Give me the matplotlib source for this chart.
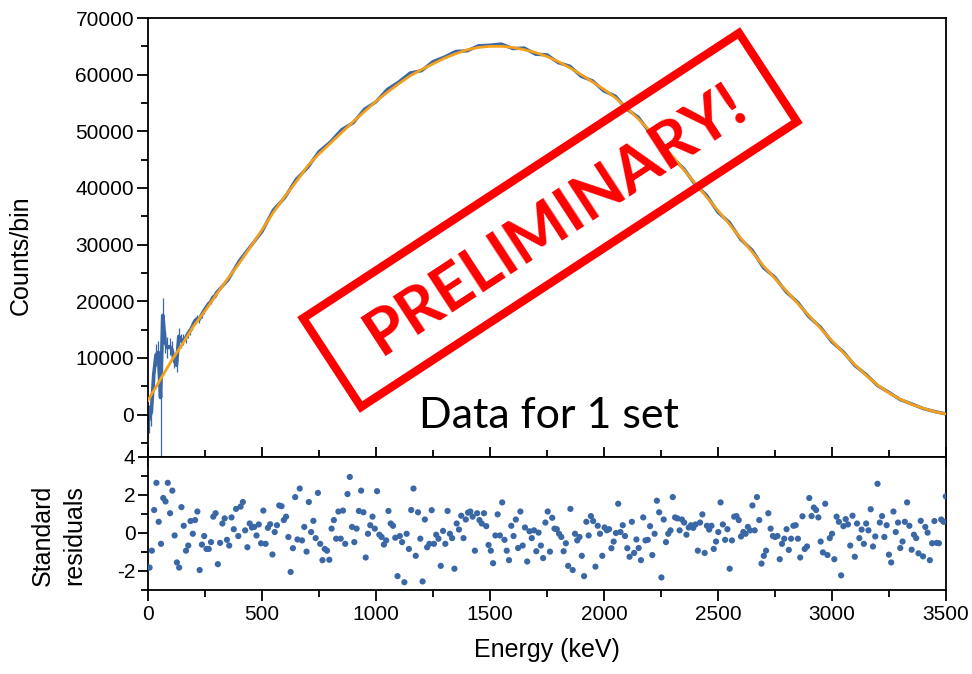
import numpy as np
import matplotlib
matplotlib.use("Agg")
import matplotlib.pyplot as plt
from matplotlib.patches import Rectangle
from matplotlib.transforms import Affine2D
from matplotlib.ticker import MultipleLocator

plt.rcParams['font.family'] = ['Liberation Sans', 'DejaVu Sans']

# fitted spectrum, every 50 keV
fit_energy = list(range(0, 3501, 50))
fit_counts = [2500, 5900, 9300, 12400, 15600, 18300, 21200, 24000, 26700, 29600,
              32600, 35700, 38500, 41100, 43900, 46000, 47900, 49800, 51700, 53500,
              55300, 56900, 58400, 59800, 60900, 61900, 62900, 63700, 64400, 64800,
              65000, 65000, 64800, 64400, 63900, 63200, 62300, 61200, 60000, 58700,
              57400, 55900, 54100, 52200, 50100, 47900, 45600, 43200, 40800, 38400,
              36000, 33600, 31100, 28700, 26200, 24000, 21800, 19600, 17400, 15200,
              13000, 10900, 8800, 6900, 5200, 3800, 2700, 1800, 1100, 500, 100]

# measured data, low energy part (10 keV bins) with error bars
low_energy = list(range(5, 300, 10))
low_counts = [-800, 500, 7000, 10500, 11000, 3000, 17500, 12800, 11800, 12000,
              11500, 9500, 8700, 13800, 13000, 13200, 13500, 14300, 14800, 15600,
              16500, 16900, 16800, 17600, 18300, 18900, 19500, 19900, 20700, 21000]
low_err = [2500, 2500, 2500, 2000, 2000, 14500, 3000, 2000, 1800, 1500,
           1500, 1200, 1200, 1500, 1200, 1000, 900, 800, 700, 700,
           600, 600, 600, 500, 500, 500, 450, 450, 400, 400]

# measured data above 300 keV
high_energy = list(range(300, 3501, 50))
high_counts = [21500, 23700, 27100, 29700, 32300, 36100, 38300, 41500, 43600, 46400,
               48100, 50300, 51500, 53900, 55200, 57400, 58700, 60300, 60700, 62300,
               63100, 64100, 64200, 65100, 65200, 65400, 64600, 64700, 63600, 63500,
               62100, 61500, 59700, 58900, 57100, 56200, 53900, 52500, 49800, 48200,
               45300, 43400, 40600, 38700, 35700, 33900, 30900, 29000, 25900, 24200,
               21600, 19800, 17200, 15400, 12800, 11050, 8650, 7050, 5100, 3900,
               2620, 1860, 1050, 530, 100]

# standard residuals, ~10 keV bins from 7 to 3499 keV
residuals = [
    -1.82, -0.93, 1.21, 2.64, 0.59, -0.57, 1.84, 1.66, 2.64, 1.04,
    2.23, -0.13, -1.55, -1.82, 1.36, 0.38, -0.93, -0.66, 0.63, -0.04,
    0.68, 1.13, -1.95, -0.61, -0.16, -0.84, -0.84, -0.48, 0.86, 1.04,
    -1.64, -0.52, 0.5, 0.77, -0.36, -0.66, 0.82, 0.2, 1.27, -0.16,
    1.39, 1.63, 0.14, -0.75, 0.5, 0.29, 0.32, -0.13, 0.45, -0.54,
    1.18, -0.57, 0.27, 0.46, -1.13, 0.05, 0.41, 1.45, 1.41, 0.68,
    0.86, -0.21, -2.05, -0.8, 1.89, -0.34, 2.34, -0.39, 0.32, -0.98,
    1.63, 0.05, 0.64, -0.27, 2.11, -0.57, -1.43, -0.84, -0.93, -1.41,
    0.23, 0.68, -0.3, 1.13, -0.3, 1.18, -0.57, 2.05, 2.95, 0.32,
    -0.48, 0.23, 1.16, 2.23, 1.09, -1.29, -0.04, 0.41, 0.86, 0.23,
    2.2, -0.09, -0.21, -0.61, -0.39, 1.16, 0.5, 0.38, -0.25, -2.27,
    -0.16, -0.48, -2.59, -0.04, -0.84, 1.21, 2.34, -1.2,
    1.09, -0.3, -2.55, 0.71, -0.75, -0.57, 1.2, -0.57, -0.09, -0.3,
    -1.73, 0.11, -0.57, 1.16, -0.04, -0.27, -1.88, 0.5, 0.18, 0.91,
    -0.27, 0.71, 1.07, 1.13, 0.86, -0.93, 1.04, 0.68, 0.5, 1.04,
    0.36, -0.63, -0.93, -1.59, -0.13, 0.98, -0.13, 1.61, -0.36, -0.93,
    -1.43, 0.38, -0.16, 0.71, -0.79, 1.13, -0.66, 0.29, -1.5, 0.09,
    -0.27, 0.14, -0.96, 0.02, -0.66, -1.32, 0.55, 1.13, -0.98, 0.8,
    0.23, 0.2, -0.04, -0.21, -0.96, -0.54, -1.73, 1.27, -1.95, -0.04,
    -0.39, -0.21, -1.2, -2.27, 0.59, -0.13, 0.89, 0.63, -1.77, 0.38,
    -0.04, -1.2, 0.29, 0.14, 0.2, -0.8, -0.45, 0.0, 1.54, 0.05,
    0.41, -0.16, -0.8, -1.25, 0.59, -1.05, -0.34, -0.79, -1.43, 0.82,
    -0.39, -0.36, 0.36, -1.16, -0.04, 1.7, 1.09, -2.34, 0.71, -0.48,
    -0.04, 0.14, 1.89, 0.82, 0.77, 0.14, 0.71, 0.55, -0.09, 0.29,
    0.41, 0.27, 0.45, -0.93, 0.55, 0.98, -1.05, 0.38, 0.18, 0.38,
    -0.84, -0.45, 0.05, 1.61, 0.45, -0.36, 0.2, -1.88, -0.39, 0.86,
    0.89, 0.68, -0.18, 0.05, -0.04, 0.32, 0.14, 1.45, 0.14, 1.89,
    0.68, -1.61, -1.2, -0.93, 1.04, 0.23, -0.16, -0.21, -0.16, -1.38,
    -0.57, -0.3, 0.2, -0.89, -0.3, 0.38, 0.41, -0.3, -1.29, 0.88,
    -0.84, -0.71, 1.84, 0.89, 1.34, 1.21, 0.82, -0.45, -1.02, 1.54,
    -1.16, -0.27, -0.04, -1.38, 0.86, 0.59, -2.23, 0.36, 0.73, 0.45,
    -0.66, 0.91, -1.25, 0.5, -0.27, 0.18, -0.57, 0.5, 0.14, 1.25,
    -0.71, -0.18, 2.59, 0.55, 0.89, -0.21, 0.41, -1.14, -1.55, 1.13,
    0.05, 0.55, -0.79, -0.45, 0.59, 1.61, 0.38, -0.88, -0.09, -0.27,
    -1.07, 0.64, -1.23, 0.32, 0.02, -1.43, -0.54, 0.63, -0.52, -0.54,
    0.71, 0.59, 1.93]
resid_energy = np.linspace(7, 3499, len(residuals))

blue = '#3a68a6'
orange = '#f5a01a'
red = '#ff0000'

W, H = 972, 674
fig = plt.figure(figsize=(W / 100, H / 100), dpi=100)
ax1 = fig.add_axes([148 / W, 217 / H, 798 / W, 439 / H])
ax2 = fig.add_axes([148 / W, 84 / H, 798 / W, 133 / H], sharex=ax1)

# top panel: spectrum + fit
ax1.errorbar(low_energy, low_counts, yerr=low_err, color=blue, lw=2.6,
             elinewidth=0.9, capsize=0, zorder=2)
ax1.plot([low_energy[-1]] + high_energy, [low_counts[-1]] + high_counts,
         color=blue, lw=2.4, zorder=2)
ax1.plot(fit_energy, fit_counts, color=orange, lw=2.0, zorder=3)

ax1.set_xlim(0, 3500)
ax1.set_ylim(-7500, 70000)
ax1.yaxis.set_major_locator(MultipleLocator(10000))
ax1.yaxis.set_minor_locator(MultipleLocator(5000))
ax1.set_yticks(range(0, 70001, 10000))
ax1.xaxis.set_major_locator(MultipleLocator(500))
ax1.xaxis.set_minor_locator(MultipleLocator(250))
ax1.tick_params(axis='y', which='major', direction='out', length=8, width=1.3,
                labelsize=15, pad=2)
ax1.tick_params(axis='y', which='minor', direction='out', length=5, width=1.3)
ax1.tick_params(axis='x', which='major', direction='inout', length=14, width=1.3,
                labelbottom=False)
ax1.tick_params(axis='x', which='minor', direction='inout', length=10, width=1.3)
ax1.set_ylabel('Counts/bin', fontsize=18)
ax1.yaxis.set_label_coords(-0.145, 0.46)
for s in ax1.spines.values():
    s.set_linewidth(1.3)

ax1.text(0.502, 0.065, 'Data for 1 set', transform=ax1.transAxes, ha='center',
         va='baseline', fontsize=31, family=['Lato', 'DejaVu Sans'])

# bottom panel: residuals
ax2.scatter(resid_energy, residuals, s=20, color=blue, edgecolors='none', zorder=3)
ax2.set_ylim(-3, 4)
ax2.yaxis.set_major_locator(MultipleLocator(2))
ax2.yaxis.set_minor_locator(MultipleLocator(1))
ax2.tick_params(axis='y', which='major', direction='out', length=7, width=1.3,
                labelsize=15, pad=2)
ax2.tick_params(axis='y', which='minor', direction='out', length=5, width=1.3)
ax2.tick_params(axis='x', which='major', direction='out', length=8, width=1.3,
                labelsize=15, pad=3, top=False)
ax2.tick_params(axis='x', which='minor', direction='out', length=5, width=1.3)
ax2.set_yticks([-2, 0, 2, 4])
ax2.set_yticklabels(['-2', '0', '2', '4'])
ax2.set_xticks(range(0, 3501, 500))
ax2.set_xlabel('Energy (keV)', fontsize=18, labelpad=10)
ax2.set_ylabel('Standard\nresiduals', fontsize=18, linespacing=1.35)
ax2.yaxis.set_label_coords(-0.078, 0.41)
for s in ax2.spines.values():
    s.set_linewidth(1.3)

# PRELIMINARY stamp, placed in pixel coordinates of the figure
px = Affine2D().scale(1 / W, 1 / H) + fig.transFigure
cx, cy = 550, H - 220
bw, bh = 521, 106
angle = 33.2
box = Rectangle((cx - bw / 2, cy - bh / 2), bw, bh, angle=angle,
                rotation_point='center', fill=False, edgecolor=red, lw=6,
                transform=px, zorder=10)
fig.add_artist(box)
fig.text(556 / W, (H - 219) / H, 'PRELIMINARY!', color=red, fontsize=46,
         fontweight='bold', family=['Lato', 'DejaVu Sans'], rotation=angle,
         rotation_mode='anchor', ha='center', va='center', zorder=11)

fig.savefig('out.png', dpi=100)
